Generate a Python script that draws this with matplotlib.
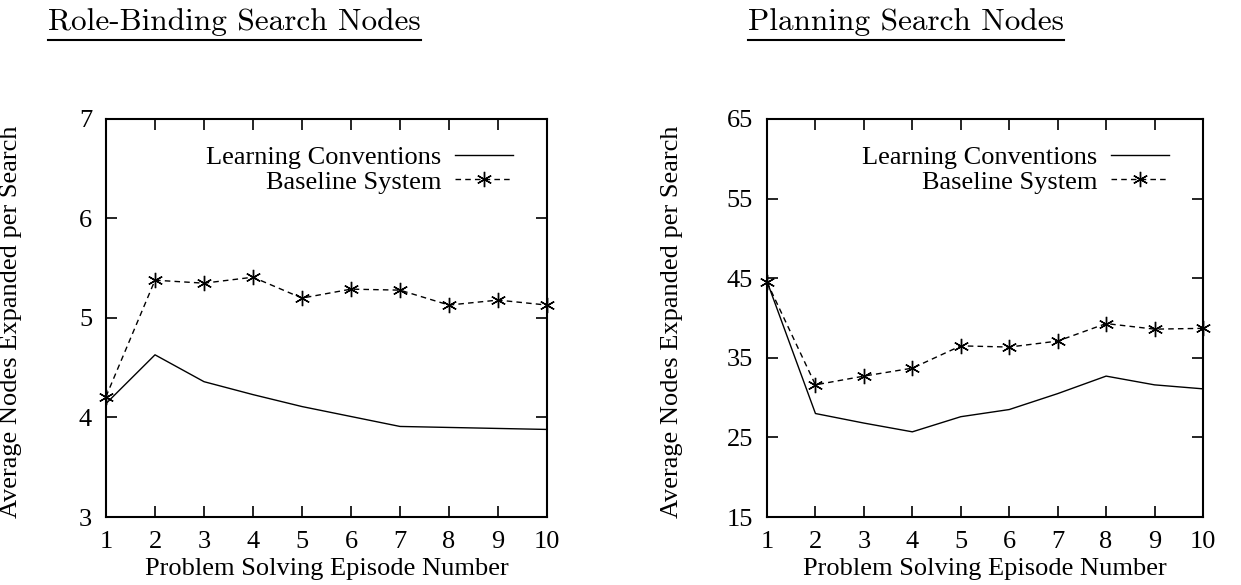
import matplotlib
matplotlib.use('Agg')
import matplotlib.pyplot as plt

# 共通データ
episodes = [1, 2, 3, 4, 5, 6, 7, 8, 9, 10]

# Role-Binding
rb_learning = [4.14, 4.63, 4.36, 4.23, 4.11, 4.01, 3.91, 3.90, 3.89, 3.88]
rb_baseline = [4.21, 5.38, 5.35, 5.41, 5.20, 5.29, 5.28, 5.13, 5.18, 5.13]

# Planning
pl_learning = [44.6, 28.0, 26.8, 25.7, 27.6, 28.5, 30.5, 32.7, 31.6, 31.1]
pl_baseline = [44.5, 31.6, 32.7, 33.7, 36.5, 36.35, 37.1, 39.3, 38.6, 38.7]

titles = ['Role-Binding Search Nodes', 'Planning Search Nodes']
ylims = [(3, 7), (15, 65)]
yticks = [[3, 4, 5, 6, 7], [15, 25, 35, 45, 55, 65]]

plt.rcParams['font.family'] = ['Liberation Serif', 'DejaVu Serif']
plt.rcParams['font.size'] = 19

W, H = 1241, 585
fig = plt.figure(figsize=(W / 100, H / 100), dpi=100)
ax1 = fig.add_axes([106 / W, 1 - 517 / H, 441 / W, 398 / H])
ax2 = fig.add_axes([767 / W, 1 - 517 / H, 436 / W, 398 / H])

data = [(rb_learning, rb_baseline), (pl_learning, pl_baseline)]
title_x = [48, 748]
ax_w = [441, 436]

for i, ax in enumerate([ax1, ax2]):
    learn, base = data[i]
    ax.plot(episodes, learn, color='black', lw=1.0, label='Learning Conventions')
    ax.plot(episodes, base, color='black', lw=1.0, ls=(0, (4, 3)),
            marker=(6, 2, 0), markersize=11, markeredgewidth=1.0,
            label='Baseline System', clip_on=False)
    ax.set_xlim(1, 10)
    ax.set_ylim(*ylims[i])
    ax.set_xticks(episodes)
    ax.set_yticks(yticks[i])
    ax.tick_params(direction='in', top=True, right=True, length=8, width=1.2,
                   pad=10, labelsize=19)
    for s in ax.spines.values():
        s.set_linewidth(1.5)
    ax.set_xlabel('Problem Solving Episode Number', fontsize=19, labelpad=4)
    ax.set_ylabel('Average Nodes Expanded per Search', fontsize=19)
    ax.yaxis.set_label_coords(-84 / ax_w[i], 0.49)
    ax.legend(loc='upper right', frameon=False, markerfirst=False,
              handlelength=2.2, fontsize=19, borderaxespad=0.6,
              labelspacing=0.05, handletextpad=0.5,
              bbox_to_anchor=(1 - 8 / ax_w[i], 1))

    # タイトル（下線付き）
    t = fig.text(title_x[i] / W, 1 - 22 / H, titles[i], family='cmr10',
                 fontsize=22.5, ha='left', va='center')
    fig.canvas.draw()
    bb = t.get_window_extent()
    x0 = bb.x0 / fig.bbox.width
    x1 = bb.x1 / fig.bbox.width
    fig.add_artist(plt.Line2D([x0, x1], [1 - 40 / H, 1 - 40 / H],
                              color='black', lw=1.5, transform=fig.transFigure))

fig.savefig('out.png', dpi=100)
